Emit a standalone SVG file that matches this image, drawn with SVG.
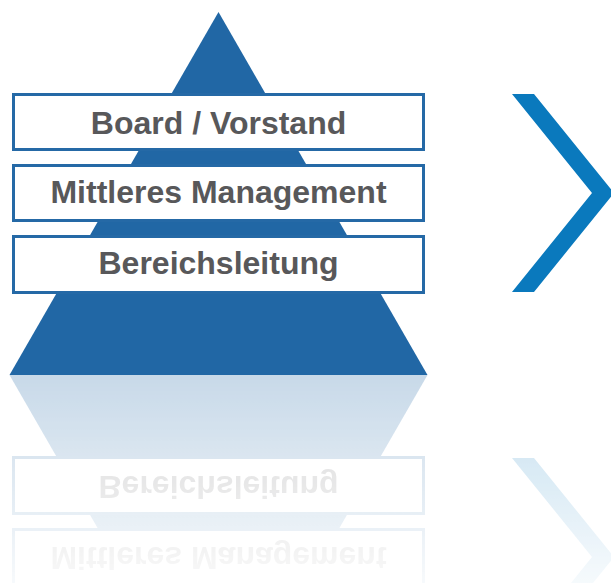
<svg xmlns="http://www.w3.org/2000/svg" xmlns:xlink="http://www.w3.org/1999/xlink" width="611" height="583" viewBox="0 0 611 583">
  <style>
    .tri { fill: #2167a5; }
    .box { fill: #ffffff; stroke: #2569a6; stroke-width: 3; }
    .lbl { font-family: "Liberation Sans", Arial, sans-serif; font-weight: bold; font-size: 32px; fill: #58585a; text-anchor: middle; }
    .chev { fill: #0a79bd; }
  </style>
  <defs>
    <linearGradient id="fade" gradientUnits="userSpaceOnUse" x1="0" y1="375" x2="0" y2="620">
      <stop offset="0" stop-color="#fff" stop-opacity="0.25"/>
      <stop offset="1" stop-color="#fff" stop-opacity="0"/>
    </linearGradient>
    <mask id="reflMask" maskUnits="userSpaceOnUse" x="0" y="375" width="611" height="208">
      <rect x="0" y="375" width="611" height="208" fill="url(#fade)"/>
    </mask>
  </defs>

  <g id="scene">
    <g id="pyramid">
      <polygon class="tri" points="218.5,12 9.5,375 427.5,375"/>
    </g>
    <g id="board">
      <rect class="box" x="13.5" y="94.5" width="410" height="55"/>
      <text class="lbl" x="218.5" y="134">Board / Vorstand</text>
    </g>
    <g id="mittleres">
      <rect class="box" x="13.5" y="165.5" width="410" height="55"/>
      <text class="lbl" x="218.5" y="203">Mittleres Management</text>
    </g>
    <g id="bereich">
      <rect class="box" x="13.5" y="236.5" width="410" height="56"/>
      <text class="lbl" x="218.5" y="274">Bereichsleitung</text>
    </g>
    <g id="chevron">
      <polygon class="chev" points="512,94 534,94 614,193 534,292 512,292 592,193"/>
    </g>
  </g>

  <g id="reflection" mask="url(#reflMask)">
    <use xlink:href="#scene" href="#scene" transform="translate(0,750) scale(1,-1)"/>
  </g>
</svg>
